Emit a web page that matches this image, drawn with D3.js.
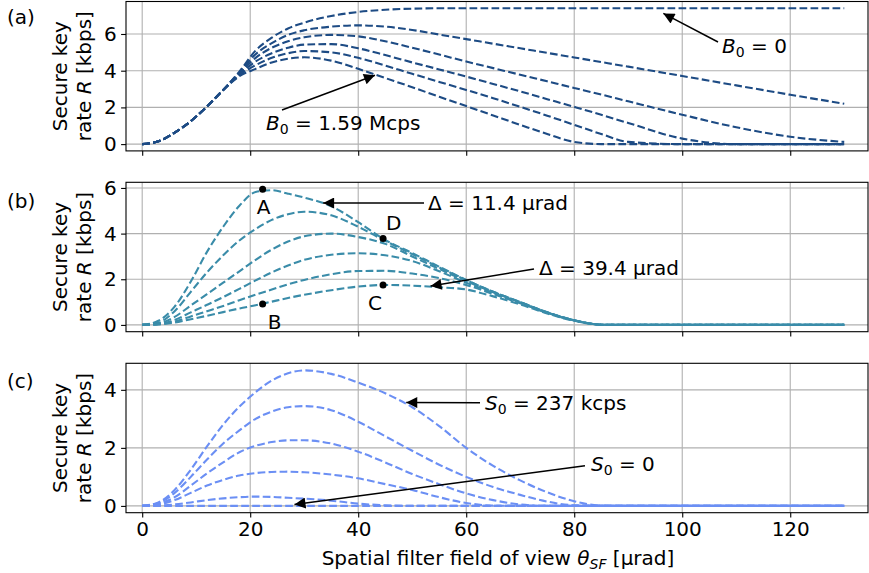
<!DOCTYPE html>
<html>
<head>
<meta charset="utf-8">
<script src="https://cdn.jsdelivr.net/npm/d3@7"></script>
<style>
  body { margin: 0; background: #fff; }
  svg { display: block; font-family: "DejaVu Sans", sans-serif; }
</style>
</head>
<body>
<svg width="869" height="573"></svg>
<script>
// x grid shared by every curve (spatial filter FOV, µrad)
const thetaSF = [0, 3, 6, 9, 12, 15, 18, 21, 24, 27, 30, 35, 40, 45, 50, 55, 60, 65, 70, 75, 80, 85, 90, 100, 110, 120, 130];
const xTicks = [0, 20, 40, 60, 80, 100, 120];

// panel (a): varying background B0 (0 ... 1.59 Mcps)
const rateA = [
  [0, 0.15, 0.62, 1.25, 2.05, 2.95, 3.95, 5.1, 5.8, 6.3, 6.62, 6.98, 7.2, 7.32, 7.38, 7.4, 7.4, 7.4, 7.4, 7.4, 7.4, 7.4, 7.4, 7.4, 7.4, 7.4, 7.4],
  [0, 0.15, 0.62, 1.25, 2.05, 2.95, 3.9, 4.9, 5.5, 5.95, 6.2, 6.4, 6.47, 6.4, 6.22, 5.97, 5.72, 5.47, 5.22, 4.97, 4.72, 4.47, 4.22, 3.71, 3.2, 2.69, 2.2],
  [0, 0.15, 0.62, 1.25, 2.05, 2.95, 3.85, 4.7, 5.25, 5.6, 5.82, 5.95, 5.87, 5.6, 5.25, 4.88, 4.5, 4.14, 3.78, 3.42, 3.06, 2.7, 2.33, 1.6, 0.92, 0.4, 0.12],
  [0, 0.15, 0.62, 1.25, 2.05, 2.95, 3.8, 4.5, 4.95, 5.25, 5.42, 5.45, 5.22, 4.85, 4.45, 4.07, 3.68, 3.28, 2.87, 2.45, 2.03, 1.6, 1.15, 0.3, 0, 0, 0],
  [0, 0.15, 0.62, 1.25, 2.05, 2.95, 3.75, 4.3, 4.7, 4.95, 5.07, 5.0, 4.7, 4.28, 3.83, 3.39, 2.95, 2.5, 2.03, 1.55, 1.05, 0.55, 0.12, 0, 0, 0, 0],
  [0, 0.15, 0.62, 1.25, 2.05, 2.95, 3.7, 4.1, 4.45, 4.65, 4.73, 4.55, 4.1, 3.6, 3.1, 2.58, 2.07, 1.56, 1.05, 0.55, 0.12, 0, 0, 0, 0, 0, 0]
];

// panel (b): varying pointing jitter Δ (11.4 ... 39.4 µrad)
const rateB = [
  [0, 0.18, 0.8, 1.9, 3.2, 4.3, 5.22, 5.82, 5.9, 5.75, 5.58, 5.2, 4.5, 3.72, 3.15, 2.55, 1.97, 1.45, 1.0, 0.55, 0.2, 0.01, 0, 0, 0, 0, 0],
  [0, 0.1, 0.6, 1.45, 2.3, 3.05, 3.7, 4.2, 4.6, 4.85, 4.96, 4.8, 4.3, 3.68, 3.1, 2.52, 1.96, 1.45, 1.0, 0.55, 0.2, 0.01, 0, 0, 0, 0, 0],
  [0, 0.06, 0.35, 0.85, 1.35, 1.85, 2.35, 2.85, 3.3, 3.65, 3.88, 4.0, 3.85, 3.55, 3.0, 2.45, 1.92, 1.43, 0.99, 0.55, 0.2, 0.01, 0, 0, 0, 0, 0],
  [0, 0.04, 0.22, 0.55, 0.88, 1.22, 1.58, 1.95, 2.3, 2.6, 2.85, 3.07, 3.14, 3.05, 2.8, 2.35, 1.85, 1.4, 0.97, 0.54, 0.2, 0.01, 0, 0, 0, 0, 0],
  [0, 0.03, 0.15, 0.37, 0.6, 0.83, 1.08, 1.32, 1.55, 1.78, 1.97, 2.22, 2.36, 2.37, 2.25, 2.05, 1.75, 1.35, 0.95, 0.53, 0.19, 0.01, 0, 0, 0, 0, 0],
  [0, 0.02, 0.1, 0.25, 0.4, 0.56, 0.72, 0.86, 1.02, 1.18, 1.32, 1.52, 1.68, 1.75, 1.72, 1.65, 1.55, 1.25, 0.9, 0.5, 0.18, 0.01, 0, 0, 0, 0, 0]
];

// panel (c): varying signal S0 (0 ... 237 kcps)
const rateC = [
  [0, 0.12, 0.55, 1.25, 2.05, 2.8, 3.42, 3.92, 4.32, 4.57, 4.67, 4.55, 4.25, 3.88, 3.4, 2.75, 2.0, 1.38, 0.88, 0.47, 0.16, 0.01, 0, 0, 0, 0, 0],
  [0, 0.1, 0.45, 1.0, 1.6, 2.15, 2.6, 3.0, 3.25, 3.4, 3.44, 3.3, 2.9, 2.4, 1.9, 1.42, 1.0, 0.65, 0.38, 0.15, 0.02, 0, 0, 0, 0, 0, 0],
  [0, 0.07, 0.3, 0.7, 1.12, 1.5, 1.85, 2.07, 2.2, 2.26, 2.26, 2.15, 1.87, 1.5, 1.1, 0.75, 0.43, 0.2, 0.05, 0, 0, 0, 0, 0, 0, 0, 0],
  [0, 0.04, 0.2, 0.45, 0.7, 0.9, 1.05, 1.13, 1.17, 1.18, 1.16, 1.08, 0.95, 0.75, 0.55, 0.3, 0.1, 0.01, 0, 0, 0, 0, 0, 0, 0, 0, 0],
  [0, 0.01, 0.05, 0.12, 0.2, 0.26, 0.3, 0.32, 0.31, 0.28, 0.25, 0.18, 0.08, 0.02, 0, 0, 0, 0, 0, 0, 0, 0, 0, 0, 0, 0, 0],
  [0, 0, 0, 0, 0, 0, 0, 0, 0, 0, 0, 0, 0, 0, 0, 0, 0, 0, 0, 0, 0, 0, 0, 0, 0, 0, 0]
];

// marked operating points in panel (b)
const pointsB = [
  { name: "A", x: 22.3, y: 5.94, dx: -6, dy: 25 },
  { name: "B", x: 22.3, y: 0.92, dx: 5, dy: 25 },
  { name: "C", x: 44.6, y: 1.75, dx: -15, dy: 25 },
  { name: "D", x: 44.6, y: 3.79, dx: 3, dy: -8 }
];

const svg = d3.select("svg");
const margin = { left: 126, right: 1 };
const width = +svg.attr("width");

const panels = [
  { id: "(a)", data: rateA, color: "#1d4b84", top: 1.5, max: 7.4, ticks: [0, 2, 4, 6], labelY: 23.5 },
  { id: "(b)", data: rateB, color: "#3a8ca9", top: 182.3, max: 5.95, ticks: [0, 2, 4, 6], labelY: 207.5 },
  { id: "(c)", data: rateC, color: "#6b8ff4", top: 363.3, max: 4.68, ticks: [0, 2, 4], labelY: 388 }
];
const panelH = 149.4;

const xScale = d3.scaleLinear().domain([-3.0, 134.4]).range([margin.left, width - margin.right]);

const fontSize = 20;

panels.forEach((p, pi) => {
  const pad = p.max * 0.05;
  const yScale = d3.scaleLinear().domain([-pad, p.max + pad]).range([p.top + panelH, p.top]);
  const g = svg.append("g").attr("class", "panel");
  p.yScale = yScale;

  // clip for curves
  const clipId = "clip" + pi;
  svg.append("clipPath").attr("id", clipId)
    .append("rect").attr("x", xScale.range()[0]).attr("y", p.top)
    .attr("width", xScale.range()[1] - xScale.range()[0]).attr("height", panelH);

  // grid
  g.append("g").selectAll("line").data(xTicks).enter().append("line")
    .attr("x1", d => xScale(d)).attr("x2", d => xScale(d))
    .attr("y1", p.top).attr("y2", p.top + panelH)
    .attr("stroke", "#b0b0b0").attr("stroke-width", 1.1);
  g.append("g").selectAll("line").data(p.ticks).enter().append("line")
    .attr("x1", xScale.range()[0]).attr("x2", xScale.range()[1])
    .attr("y1", d => yScale(d)).attr("y2", d => yScale(d))
    .attr("stroke", "#b0b0b0").attr("stroke-width", 1.1);

  // curves
  const line = d3.line()
    .x((d, i) => xScale(thetaSF[i]))
    .y(d => yScale(d))
    .curve(d3.curveMonotoneX);
  g.append("g").attr("clip-path", `url(#${clipId})`)
    .selectAll("path").data(p.data).enter().append("path")
    .attr("d", line)
    .attr("fill", "none")
    .attr("stroke", p.color)
    .attr("stroke-width", 2.1)
    .attr("stroke-dasharray", "7.7,3.3");

  // axes
  const yAxis = d3.axisLeft(yScale).tickValues(p.ticks).tickSize(4.9).tickPadding(4.5).tickFormat(d3.format("d"));
  const yAxisG = g.append("g").attr("transform", `translate(${xScale.range()[0]},0)`).call(yAxis);
  yAxisG.select(".domain").remove();
  yAxisG.selectAll("text").attr("font-size", fontSize).attr("font-family", "DejaVu Sans").attr("fill", "#000");
  yAxisG.selectAll("line").attr("stroke-width", 1.1);

  const xAxis = d3.axisBottom(xScale).tickValues(xTicks).tickSize(4.9).tickPadding(4.5)
    .tickFormat(pi === 2 ? d3.format("d") : "");
  const xAxisG = g.append("g").attr("transform", `translate(0,${p.top + panelH})`).call(xAxis);
  xAxisG.select(".domain").remove();
  xAxisG.selectAll("text").attr("font-size", fontSize).attr("font-family", "DejaVu Sans").attr("fill", "#000");
  xAxisG.selectAll("line").attr("stroke-width", 1.1);

  // frame
  g.append("rect")
    .attr("x", xScale.range()[0]).attr("y", p.top)
    .attr("width", xScale.range()[1] - xScale.range()[0]).attr("height", panelH)
    .attr("fill", "none").attr("stroke", "#000").attr("stroke-width", 1.1);

  // y label (two lines)
  const yl = g.append("text")
    .attr("transform", `translate(0,${p.top + panelH / 2}) rotate(-90)`)
    .attr("text-anchor", "middle")
    .attr("font-size", fontSize);
  yl.append("tspan").attr("x", 0).attr("y", 67).text("Secure key");
  const l2 = yl.append("tspan").attr("x", 0).attr("y", 90.5);
  l2.append("tspan").text("rate ");
  l2.append("tspan").attr("font-style", "italic").text("R");
  l2.append("tspan").text(" [kbps]");

  // panel id
  svg.append("text").attr("x", 7).attr("y", p.labelY)
    .attr("font-size", fontSize).text(p.id);
});

// x label
const xl = svg.append("text")
  .attr("x", (xScale(-3) + xScale(134.4)) / 2 + 1)
  .attr("y", 565)
  .attr("text-anchor", "middle")
  .attr("font-size", fontSize);
xl.append("tspan").text("Spatial filter field of view ");
xl.append("tspan").attr("font-style", "italic").text("θ");
xl.append("tspan").attr("font-style", "italic").attr("font-size", fontSize * 0.7).attr("dy", 4).text("SF");
xl.append("tspan").attr("dy", -4).text(" [μrad]");

// arrow marker
const defs = svg.append("defs");
defs.append("marker").attr("id", "arrowHead")
  .attr("viewBox", "0 0 10 10").attr("refX", 10).attr("refY", 5)
  .attr("markerWidth", 20).attr("markerHeight", 11)
  .attr("markerUnits", "userSpaceOnUse")
  .attr("orient", "auto")
  .append("path").attr("d", "M0,0 L10,5 L0,10 Z").attr("fill", "#000");

// annotations: text + arrow pointing at a curve
const annotations = [
  { panel: 0, sym: "B", sub: "0", rest: " = 0", tx: 722, ty: 53, from: [718, 42], to: [96.5, 7.12] },
  { panel: 0, sym: "B", sub: "0", rest: " = 1.59 Mcps", tx: 266, ty: 130, from: [282, 110], to: [43.1, 3.75] },
  { panel: 1, sym: "", sub: "", rest: "Δ = 11.4 μrad", tx: 428, ty: 210, from: [424, 203], to: [33.5, 5.34] },
  { panel: 1, sym: "", sub: "", rest: "Δ = 39.4 μrad", tx: 539, ty: 274.5, from: [534, 269], to: [53.4, 1.70] },
  { panel: 2, sym: "S", sub: "0", rest: " = 237 kcps", tx: 485, ty: 410, from: [480, 402.7], to: [48.9, 3.56] },
  { panel: 2, sym: "S", sub: "0", rest: " = 0", tx: 591, ty: 471, from: [585, 465.7], to: [28.2, 0.05] }
];

annotations.forEach(a => {
  const ys = panels[a.panel].yScale;
  svg.append("line")
    .attr("x1", a.from[0]).attr("y1", a.from[1])
    .attr("x2", xScale(a.to[0])).attr("y2", ys(a.to[1]))
    .attr("stroke", "#000").attr("stroke-width", 1.5)
    .attr("marker-end", "url(#arrowHead)");
  const t = svg.append("text").attr("x", a.tx).attr("y", a.ty).attr("font-size", fontSize);
  if (a.sym) {
    t.append("tspan").attr("font-style", "italic").text(a.sym);
    t.append("tspan").attr("font-size", fontSize * 0.7).attr("dy", 4).text(a.sub);
    t.append("tspan").attr("dy", -4).text(a.rest);
  } else {
    t.append("tspan").text(a.rest);
  }
});

// points A-D in panel (b)
const ysB = panels[1].yScale;
svg.append("g").selectAll("circle").data(pointsB).enter().append("circle")
  .attr("cx", d => xScale(d.x)).attr("cy", d => ysB(d.y)).attr("r", 3.5).attr("fill", "#000");
svg.append("g").selectAll("text").data(pointsB).enter().append("text")
  .attr("x", d => xScale(d.x) + d.dx).attr("y", d => ysB(d.y) + d.dy)
  .attr("font-size", fontSize).text(d => d.name);
</script>
</body>
</html>
